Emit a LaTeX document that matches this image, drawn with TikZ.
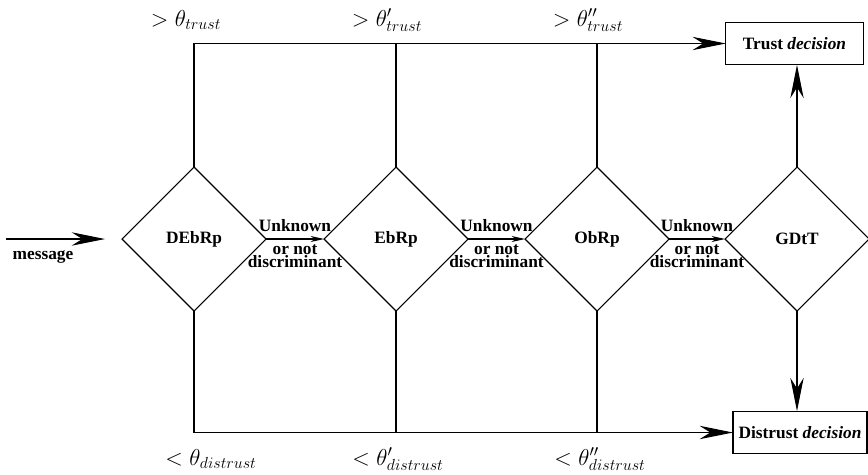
\documentclass[tikz,border=0pt]{standalone}
\usepackage[no-math]{fontspec}
\setmainfont{Liberation Serif}
\usetikzlibrary{shapes.geometric,arrows.meta,calc}
\begin{document}
\begin{tikzpicture}[x=0.75pt,y=-0.75pt,
  line width=0.8pt,
  dia/.style={draw,shape=diamond,aspect=1,minimum width=108pt,minimum height=108pt,inner sep=0pt,outer sep=0pt,font=\fontsize{13}{15}\selectfont\bfseries},
  decbox/.style={draw,rectangle,minimum height=32pt,inner sep=0pt,outer sep=0pt,font=\fontsize{13}{15}\selectfont\bfseries},
  lbl/.style={inner sep=0pt,font=\fontsize{13}{15}\selectfont\bfseries},
  thr/.style={inner sep=0pt,font=\fontsize{17.28}{20}\selectfont},
  bigarrow/.style={-{Stealth[length=25pt,width=10pt,inset=8pt]}},
  smallarrow/.style={-{Stealth[length=10pt,width=4.5pt,inset=3pt]}}]
\useasboundingbox (0,0) rectangle (868,475);

\node[dia] (d1) at (194,239) {DEbRp};
\node[dia] (d2) at (396,239) {EbRp};
\node[dia] (d3) at (597,239) {ObRp};
\node[dia] (d4) at (797,239) {GDtT};

\node[decbox,minimum width=103pt] (trust) at (794.5,43.5) {Trust \textit{decision}};
\node[decbox,minimum width=100.5pt] (distrust) at (800,432.5) {Distrust \textit{decision}};

% message
\coordinate (ms) at (6,239);
\coordinate (me) at (105,239);
\draw[bigarrow] (ms) -- (me);
\node[lbl,anchor=base] (msg) at (43,259) {message};

% between diamonds
\draw[smallarrow] (d1.east) -- (d2.west);
\draw[smallarrow] (d2.east) -- (d3.west);
\draw[smallarrow] (d3.east) -- (d4.west);
\foreach \a/\b/\i in {d1/d2/1,d2/d3/2,d3/d4/3}{
  \node[lbl,anchor=base] (u\i) at ($(\a.east)!0.5!(\b.west)+(0,-8)$) {Unknown};
  \node[lbl,anchor=base] (o\i) at ($(\a.east)!0.5!(\b.west)+(0,15)$) {or not};
  \node[lbl,anchor=base] (c\i) at ($(\a.east)!0.5!(\b.west)+(0,28)$) {discriminant};
}

% top connections
\draw[bigarrow] (d1.north) |- (trust.west);
\draw (d2.north) -- (d2.north |- trust.west);
\draw (d3.north) -- (d3.north |- trust.west);
\draw[bigarrow] (d4.north) -- (d4.north |- trust.south);

% bottom connections
\draw[bigarrow] (d1.south) |- (distrust.west);
\draw (d2.south) -- (d2.south |- distrust.west);
\draw (d3.south) -- (d3.south |- distrust.west);
\draw[bigarrow] (d4.south) -- (d4.south |- distrust.north);

% thresholds
\node[thr,anchor=base] (t1) at (186,26) {$>\theta_{trust}$};
\node[thr,anchor=base] (t2) at (387,26) {$>\theta'_{trust}$};
\node[thr,anchor=base] (t3) at (588,26) {$>\theta''_{trust}$};
\node[thr,anchor=base] (b1) at (211,465) {$<\theta_{distrust}$};
\node[thr,anchor=base] (b2) at (398,465) {$<\theta'_{distrust}$};
\node[thr,anchor=base] (b3) at (600,465) {$<\theta''_{distrust}$};
\end{tikzpicture}
\end{document}
